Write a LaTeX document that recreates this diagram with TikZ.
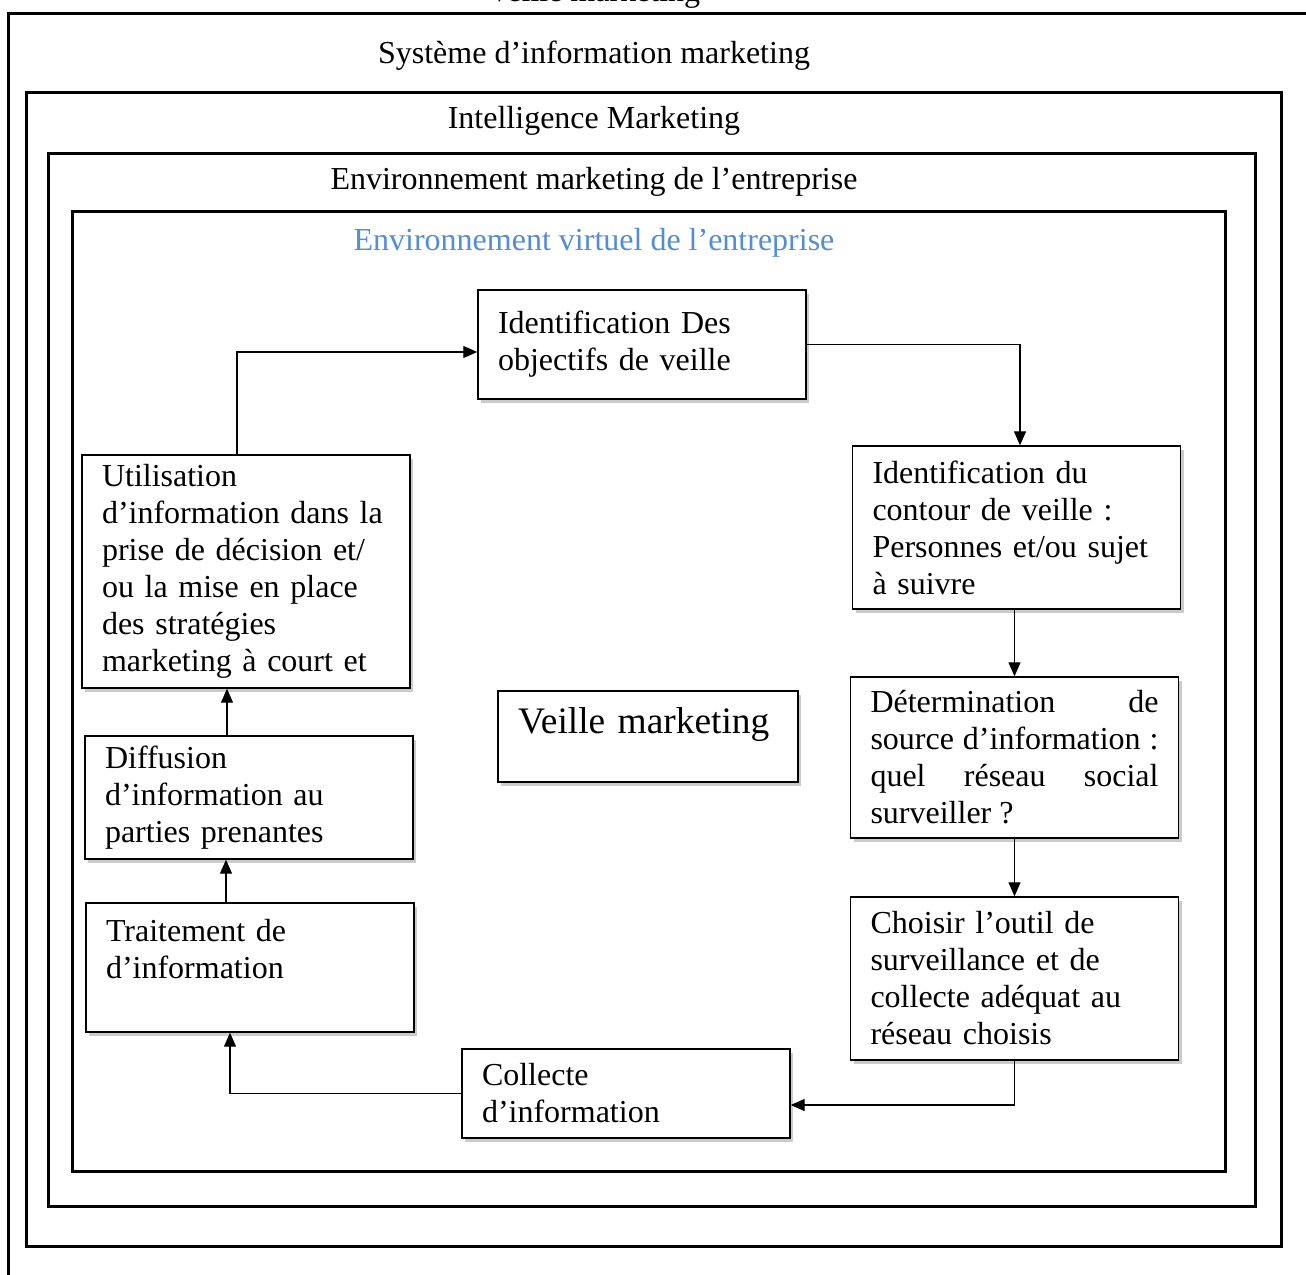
\documentclass[tikz,border=0pt]{standalone}
\usepackage{fontspec}
\setmainfont{Liberation Serif}
\usetikzlibrary{arrows.meta,shadows}
\definecolor{virtbleu}{RGB}{84,141,212}
\tikzset{
  cadre/.style={line width=1.5pt},
  titre/.style={font=\fontsize{16}{18.5}\selectfont, anchor=base, inner sep=0pt},
  etape/.style={draw, line width=0.7pt, fill=white,
    drop shadow={shadow xshift=1.5pt, shadow yshift=-2pt, fill=black!40, opacity=0.5},
    text width=144pt, inner xsep=10pt, inner ysep=0pt, minimum width=164pt,
    align=left, font=\fontsize{16}{18.5}\selectfont},
  fleche/.style={-{Triangle[length=7pt,width=6pt]}, line width=0.6pt}
}
\begin{document}
\begin{tikzpicture}[x=0.5pt, y=-0.5pt]
  \useasboundingbox (0,0) rectangle (1306,1274);
  \clip (0,0) rectangle (1306,1274);
  \fill [white] (0,0) rectangle (1306,1274);
  \draw [cadre] (8,13) rectangle (1330,1300);
  \draw [cadre] (26,92) rectangle (1281,1246);
  \draw [cadre] (48,153) rectangle (1255,1206);
  \draw [cadre] (72,211) rectangle (1225,1171);
  \node [titre] (veilletitre) at (594,2) {Veille marketing};
  \node [titre] (sim) at (594,63) {Système d’information marketing};
  \node [titre] (intel) at (594,128) {Intelligence Marketing};
  \node [titre] (envmark) at (594,189) {Environnement marketing de l’entreprise};
  \node [titre, text=virtbleu] (envvirt) at (594,250) {Environnement virtuel de l’entreprise};

  \node [etape, minimum height=54.5pt] (objectifs) at (642,344.5) {Identification Des\\objectifs de veille};
  \node [etape, minimum height=81.5pt] (contour) at (1016.5,527.5) {Identification du\\contour de veille :\\Personnes et/ou sujet\\à suivre};
  \node [etape, minimum height=80.5pt, align=justify] (source) at (1014.5,757.5) {Détermination de\linebreak source d’information~:\linebreak quel réseau social\linebreak surveiller~?};
  \node [etape, minimum height=81.5pt] (outil) at (1014.5,978.5) {Choisir l’outil de\\surveillance et de\\collecte adéquat au\\réseau choisis};
  \node [etape, minimum height=44.5pt] (collecte) at (626,1093.5) {Collecte\\d’information};
  \node [etape, minimum height=64.5pt] (traitement) at (250,967.5) {Traitement de\\d’information\\\mbox{}};
  \node [etape, minimum height=61.5pt] (diffusion) at (249,797.5) {Diffusion\\d’information au\\parties prenantes};
  \node [etape, minimum height=116.5pt] (utilisation) at (246,571.5) {Utilisation\\d’information dans la\\prise de décision et/\\ou la mise en place\\des stratégies\\marketing à court et};
  \node [etape, minimum width=150pt, text width=130pt, minimum height=45.5pt, text depth=16pt,
    font=\fontsize{18.7}{22}\selectfont] (veille) at (648,736.5) {Veille marketing};

  \draw [fleche] ([xshift=-4.5pt]utilisation.north) |- ([yshift=-3.75pt]objectifs.west);
  \draw [fleche] (objectifs.east) -| ([xshift=1.75pt]contour.north);
  \draw [fleche] (contour.south -| source.north) -- (source.north);
  \draw [fleche] (source.south) -- (outil.north);
  \draw [fleche] (outil.south) |- ([yshift=-5.75pt]collecte.east);
  \draw [fleche] (collecte.west) -| ([xshift=-10pt]traitement.south);
  \draw [fleche] ([xshift=-12pt]traitement.north) -- ([xshift=-12pt]traitement.north |- diffusion.south);
  \draw [fleche] ([xshift=-11pt]diffusion.north) -- ([xshift=-11pt]diffusion.north |- utilisation.south);
\end{tikzpicture}
\end{document}
